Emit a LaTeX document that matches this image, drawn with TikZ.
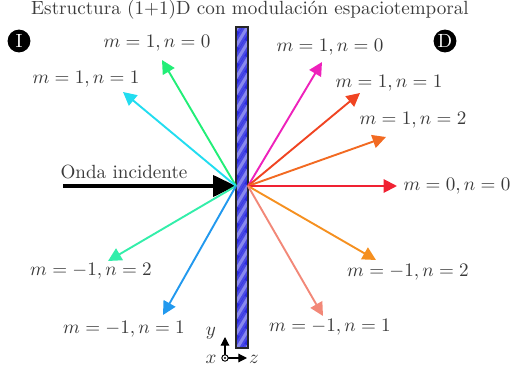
\documentclass[tikz,border=0pt]{standalone}
\usepackage{amsmath,amssymb}
\usetikzlibrary{arrows.meta}
\definecolor{txtgray}{HTML}{3A3A3A}
\definecolor{slabblue}{HTML}{2A2AE0}
\definecolor{ordA}{HTML}{22EE77}
\definecolor{ordB}{HTML}{22DDF0}
\definecolor{ordC}{HTML}{33EEAA}
\definecolor{ordD}{HTML}{2299EE}
\definecolor{ordE}{HTML}{EE22BB}
\definecolor{ordF}{HTML}{F04422}
\definecolor{ordG}{HTML}{F26A22}
\definecolor{ordH}{HTML}{F02233}
\definecolor{ordI}{HTML}{F59020}
\definecolor{ordJ}{HTML}{F28878}

\begin{document}
\begin{tikzpicture}[x=0.0184cm, y=-0.0184cm,
  >={Triangle[length=7pt, width=7pt]},
  ordarrow/.style={line width=1pt, ->},
  ordlabel/.style={text=txtgray, inner sep=1pt},
  sidemark/.style={circle, fill=black, text=white, inner sep=0pt, minimum size=0.42cm}]

% Frame (pixel grid of the figure, y downwards)
\useasboundingbox (0,0) rectangle (513,374);

% Title
\node[text=txtgray] (title) at (250,10) {Estructura (1+1)D con modulaci\'on espaciotemporal};

% Side markers
\node[sidemark] (sideI) at (19,41) {I};
\node[sidemark] (sideD) at (445,41) {D};

% Modulated slab with diagonal stripes
\begin{scope}
  \clip (236,27) rectangle (248,348);
  \fill[slabblue] (236,27) rectangle (248,348);
  \foreach \s in {20,36,...,370} {
    \draw[white, opacity=0.15, line width=4pt] (236,\s+10) -- (248,\s-10);
    \draw[white, opacity=0.35, line width=1.6pt] (236,\s+10) -- (248,\s-10);
  }
\end{scope}
\draw[black!85, line width=0.6pt] (236,27) rectangle (248,348);

% Sources on both faces
\coordinate (srcL) at (236,186);
\coordinate (srcR) at (248,186);

% Incident wave
\coordinate (inc) at (63,186);
\draw[line width=2pt, -{Triangle[length=12pt, width=11pt]}] (inc) -- (srcL);
\node[ordlabel] (incLabel) at (124,172) {Onda incidente};

% Reflected orders (left side)
\coordinate (tipA) at (162,60);
\coordinate (tipB) at (123,92);
\coordinate (tipC) at (108,261);
\coordinate (tipD) at (163,315);
\draw[ordarrow, ordA] (srcL) -- (tipA);
\draw[ordarrow, ordB] (srcL) -- (tipB);
\draw[ordarrow, ordC] (srcL) -- (tipC);
\draw[ordarrow, ordD] (srcL) -- (tipD);
\node[ordlabel] (lblA) at (157,43) {$m=1, n=0$};
\node[ordlabel] (lblB) at (86,79) {$m=1, n=1$};
\node[ordlabel] (lblC) at (91,271) {$m=-1, n=2$};
\node[ordlabel] (lblD) at (124,329) {$m=-1, n=1$};

% Transmitted orders (right side)
\coordinate (tipE) at (322,62);
\coordinate (tipF) at (360,93);
\coordinate (tipG) at (386,137);
\coordinate (tipH) at (397,186);
\coordinate (tipI) at (376,260);
\coordinate (tipJ) at (323,316);
\draw[ordarrow, ordE] (srcR) -- (tipE);
\draw[ordarrow, ordF] (srcR) -- (tipF);
\draw[ordarrow, ordG] (srcR) -- (tipG);
\draw[ordarrow, ordH] (srcR) -- (tipH);
\draw[ordarrow, ordI] (srcR) -- (tipI);
\draw[ordarrow, ordJ] (srcR) -- (tipJ);
\node[ordlabel] (lblE) at (330,47) {$m=1, n=0$};
\node[ordlabel] (lblF) at (389,83) {$m=1, n=1$};
\node[ordlabel] (lblG) at (413,120) {$m=1, n=2$};
\node[ordlabel] (lblH) at (457,186) {$m=0, n=0$};
\node[ordlabel] (lblI) at (408,272) {$m=-1, n=2$};
\node[ordlabel] (lblJ) at (330,327) {$m=-1, n=1$};

% Axes
\coordinate (orig) at (225,358);
\coordinate (yend) at (225,337);
\coordinate (zend) at (247,358);
\draw[line width=0.6pt, -{Triangle[length=4.5pt, width=4.5pt]}] (orig) -- (yend);
\draw[line width=0.6pt, -{Triangle[length=4.5pt, width=4.5pt]}] (orig) -- (zend);
\draw[line width=0.5pt, fill=white] (orig) circle (3.2);
\fill (orig) circle (1.2);
\node[ordlabel] (ylbl) at (211,333) {$y$};
\node[ordlabel] (xlbl) at (211,359) {$x$};
\node[ordlabel] (zlbl) at (254,359) {$z$};

\end{tikzpicture}
\end{document}
